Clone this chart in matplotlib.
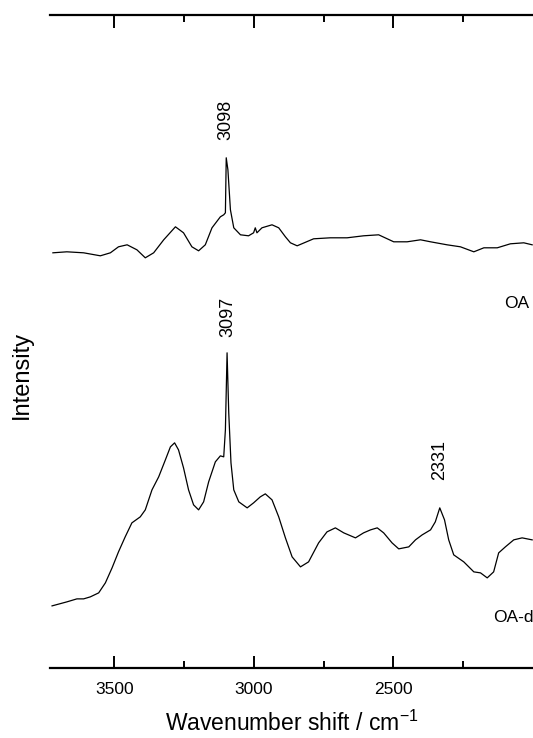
import matplotlib
matplotlib.use("Agg")
import matplotlib.pyplot as plt

plt.rcParams['font.family'] = ['Liberation Sans', 'DejaVu Sans']

# OA spectrum (arbitrary intensity units)
oa_wn = [3720, 3670, 3610, 3550, 3514, 3485, 3454, 3419, 3389, 3359, 3323, 3281,
         3252, 3222, 3198, 3174, 3150, 3120, 3108, 3102, 3099, 3093, 3084, 3072,
         3048, 3019, 3001, 2995, 2989, 2971, 2935, 2911, 2887, 2869, 2845, 2786,
         2726, 2666, 2607, 2553, 2499, 2451, 2403, 2367, 2308, 2260, 2212, 2176,
         2128, 2081, 2033, 2003]
oa_int = [415, 416, 415, 412, 415, 421, 423, 418, 410, 415, 428, 441,
          435, 421, 417, 423, 440, 451, 453, 455, 510, 498, 458, 440,
          433, 432, 435, 440, 435, 440, 443, 440, 431, 425, 422, 429,
          430, 430, 432, 433, 426, 426, 428, 426, 423, 421, 416, 420,
          420, 424, 425, 423]

# OA-d spectrum
oad_wn = [3723, 3670, 3634, 3610, 3586, 3556, 3532, 3508, 3485, 3461, 3437, 3407,
          3389, 3365, 3341, 3317, 3299, 3284, 3270, 3252, 3234, 3216, 3198, 3180,
          3162, 3138, 3120, 3108, 3102, 3096, 3090, 3082, 3072, 3054, 3024, 3001,
          2977, 2959, 2935, 2911, 2887, 2863, 2833, 2804, 2768, 2738, 2708, 2678,
          2636, 2607, 2582, 2558, 2535, 2505, 2481, 2445, 2421, 2397, 2367, 2350,
          2334, 2317, 2302, 2284, 2248, 2212, 2188, 2164, 2141, 2123, 2099, 2069,
          2039, 2003]
oad_int = [62, 66, 69, 69, 71, 75, 85, 100, 116, 131, 145, 151,
           158, 178, 191, 208, 221, 225, 218, 200, 178, 163, 158, 166,
           186, 206, 212, 211, 238, 315, 255, 205, 178, 166, 160, 165,
           171, 174, 168, 151, 130, 111, 101, 106, 125, 136, 140, 135,
           130, 135, 138, 140, 135, 125, 119, 121, 128, 133, 138, 146,
           160, 148, 128, 113, 106, 96, 95, 90, 96, 115, 121, 128,
           130, 128]

peak_labels = ["3098", "3097", "2331"]
peak_pos = [(3100, 528), (3093, 331), (2335, 188)]

fig = plt.figure(figsize=(5.33, 7.38), dpi=100)
ax = fig.add_axes([0.094, 0.095, 0.906, 0.885])

ax.plot(oa_wn, oa_int, color='black', lw=0.9)
ax.plot(oad_wn, oad_int, color='black', lw=0.9)

for lbl, (x, y) in zip(peak_labels, peak_pos):
    ax.text(x, y, lbl, rotation=90, ha='center', va='bottom', fontsize=13)

ax.text(2060, 364, "OA", ha='center', va='center', fontsize=12.5)
ax.text(1998, 50, "OA-d", ha='right', va='center', fontsize=12.5)

ax.set_xlim(3730, 2000)
ax.set_ylim(0, 653)
ax.set_xticks([3500, 3000, 2500])
ax.set_xticks([3250, 2750, 2250], minor=True)
ax.set_yticks([])
ax.spines['left'].set_visible(False)
ax.spines['right'].set_visible(False)
ax.spines['top'].set_linewidth(1.6)
ax.spines['bottom'].set_linewidth(1.6)
ax.tick_params(axis='x', which='both', direction='in', top=True, width=1.4, labelsize=12.5, pad=10)
ax.tick_params(axis='x', which='major', length=9)
ax.tick_params(axis='x', which='minor', length=5)

ax.set_xlabel("Wavenumber shift / cm$^{\\mathregular{-1}}$", fontsize=16.5, labelpad=10)
fig.text(22 / 533, 1 - 375 / 738, "Intensity", rotation=90, ha='center', va='center', fontsize=17)

fig.savefig("out.png", dpi=100)
